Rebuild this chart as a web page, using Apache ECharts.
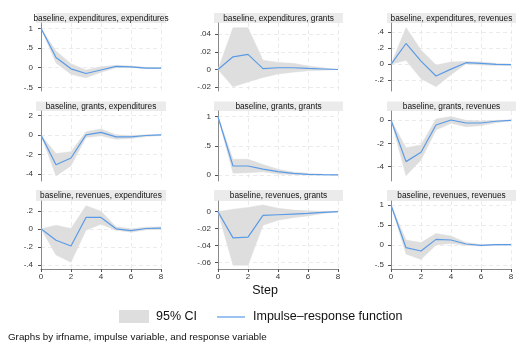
<!DOCTYPE html>
<html>
<head>
<meta charset="utf-8">
<script src="https://cdn.jsdelivr.net/npm/echarts@6/dist/echarts.min.js"></script>
<style>
  html, body { margin: 0; padding: 0; background: #fff; }
  #chart { width: 530px; height: 354px; }
</style>
</head>
<body>
<div id="chart"></div>
<script>
var steps = [0, 1, 2, 3, 4, 5, 6, 7, 8];

var panelNames = [
  'baseline, expenditures, expenditures', 'baseline, expenditures, grants', 'baseline, expenditures, revenues',
  'baseline, grants, expenditures', 'baseline, grants, grants', 'baseline, grants, revenues',
  'baseline, revenues, expenditures', 'baseline, revenues, grants', 'baseline, revenues, revenues'
];

// impulse responses and 95% CI bounds
var irfExpExp = [1, 0.26, -0.03, -0.15, -0.06, 0.03, 0.02, -0.01, -0.01];
var loExpExp  = [1, 0.12, -0.17, -0.26, -0.12, 0.0, 0.0, -0.02, -0.02];
var hiExpExp  = [1, 0.42, 0.10, -0.06, 0.02, 0.06, 0.04, 0.01, 0.0];

var irfExpGra = [0, 0.0143, 0.017, 0.001, 0.002, 0.002, 0.0012, 0.0006, 0];
var loExpGra  = [0, -0.0195, -0.014, -0.009, -0.005, -0.003, -0.0015, -0.0008, 0];
var hiExpGra  = [0, 0.047, 0.047, 0.0105, 0.008, 0.007, 0.004, 0.002, 0];

var irfExpRev = [0, 0.26, 0.04, -0.146, -0.06, 0.02, 0.012, 0, -0.005];
var loExpRev  = [0, 0.05, -0.18, -0.28, -0.13, 0.004, -0.008, -0.015, -0.015];
var hiExpRev  = [0, 0.46, 0.18, -0.01, 0.03, 0.035, 0.03, 0.012, 0.005];

var irfGraExp = [0, -3.05, -2.35, 0.03, 0.28, -0.18, -0.18, -0.04, 0.03];
var loGraExp  = [0, -4.2, -3.16, -0.25, -0.07, -0.42, -0.35, -0.15, -0.04];
var hiGraExp  = [0, -1.9, -1.7, 0.35, 0.63, 0.03, -0.04, 0.04, 0.07];

var irfGraGra = [1, 0.154, 0.154, 0.10, 0.057, 0.029, 0.011, 0.006, 0.003];
var loGraGra  = [1, 0.03, 0.04, 0.057, 0.017, 0.006, 0, -0.002, -0.003];
var hiGraGra  = [1, 0.27, 0.27, 0.18, 0.10, 0.05, 0.03, 0.012, 0.006];

var irfGraRev = [0, -3.57, -2.77, -0.43, 0, -0.26, -0.26, -0.11, -0.03];
var loGraRev  = [0, -4.77, -3.43, -0.86, -0.29, -0.57, -0.49, -0.23, -0.07];
var hiGraRev  = [0, -2.37, -2.14, 0.09, 0.29, -0.03, -0.09, -0.03, 0.01];

var irfRevExp = [0, -0.126, -0.19, 0.126, 0.126, 0, -0.02, 0.004, 0.007];
var loRevExp  = [0, -0.29, -0.37, -0.015, 0.05, -0.015, -0.037, -0.011, -0.007];
var hiRevExp  = [0, 0.04, 0.004, 0.255, 0.196, 0.022, 0, 0.019, 0.022];

var irfRevGra = [0, -0.0308, -0.030, -0.0044, -0.0036, -0.0028, -0.002, -0.0008, 0];
var loRevGra  = [0, -0.063, -0.063, -0.016, -0.010, -0.007, -0.005, -0.002, -0.0004];
var hiRevGra  = [0, 0.003, 0.005, 0.008, 0.004, 0.002, 0.001, 0.0004, 0.0004];

var irfRevRev = [1, -0.067, -0.15, 0.14, 0.125, 0.025, -0.008, 0.008, 0.008];
var loRevRev  = [1, -0.225, -0.36, 0, 0.04, -0.008, -0.025, -0.005, -0.005];
var hiRevRev  = [1, 0.125, 0.06, 0.29, 0.225, 0.06, 0.01, 0.02, 0.02];

// y tick labels per panel
var yTicks = [
  [-0.5, 0, 0.5, 1], [-0.02, 0, 0.02, 0.04], [-0.2, 0, 0.2, 0.4],
  [-4, -2, 0, 2], [0, 0.5, 1], [-4, -2, 0],
  [-0.4, -0.2, 0, 0.2], [-0.06, -0.04, -0.02, 0], [-0.5, 0, 0.5, 1]
];
var yRange = [
  [-0.594, 1.135], [-0.0242, 0.0524], [-0.334, 0.516],
  [-4.72, 2.48], [-0.103, 1.098], [-5.23, 0.77],
  [-0.444, 0.308], [-0.0674, 0.0126], [-0.6, 1.1]
];

var irfs = [irfExpExp, irfExpGra, irfExpRev, irfGraExp, irfGraGra, irfGraRev, irfRevExp, irfRevGra, irfRevRev];
var los  = [loExpExp, loExpGra, loExpRev, loGraExp, loGraGra, loGraRev, loRevExp, loRevGra, loRevRev];
var his  = [hiExpExp, hiExpGra, hiExpRev, hiGraExp, hiGraGra, hiGraRev, hiRevExp, hiRevGra, hiRevRev];

// layout
var colX = [41, 218, 391];
var colOff = [5, 4, 4];
var rowTop = [23, 111, 201];
var rowH = [68, 70, 68];
var stripH = [10, 9.5, 11];
var plotW = 120;

var font = 'Liberation Sans, Arial, sans-serif';
var gridLine = { color: '#ebebeb', type: [4, 3], width: 1 };
var bandColor = '#dedede';
var lineColor = '#5b9be6';

function fmt(v) {
  var s = String(+(+v).toFixed(4));
  return s.replace(/^(-?)0\./, '$1.');
}

// band polygon: lower edge left to right, upper edge back
function bandRenderer(lo, hi) {
  return function (params, api) {
    if (params.dataIndex !== 0) return null;
    var pts = [];
    for (var k = 0; k < steps.length; k++) pts.push(api.coord([steps[k], lo[k]]));
    for (var k2 = steps.length - 1; k2 >= 0; k2--) pts.push(api.coord([steps[k2], hi[k2]]));
    return {
      type: 'polygon', shape: { points: pts },
      style: { fill: bandColor, stroke: bandColor, lineWidth: 0.5 }
    };
  };
}

var grids = [], xAxes = [], yAxes = [], series = [], graphics = [];
for (var i = 0; i < 9; i++) {
  var r = Math.floor(i / 3), c = i % 3;
  grids.push({ left: colX[c], top: rowTop[r], width: plotW, height: rowH[r] });
  xAxes.push({
    gridIndex: i, type: 'value', min: 0, max: 8, interval: 2,
    axisLine: { show: r === 2, onZero: false, lineStyle: { color: '#8a8a8a' } },
    axisTick: { show: r === 2, length: 3, lineStyle: { color: '#555' } },
    axisLabel: { show: r === 2, fontSize: 8, color: '#333', margin: 4, fontFamily: font },
    splitLine: { show: true, lineStyle: gridLine }
  });
  yAxes.push({
    gridIndex: i, type: 'value', min: yRange[i][0], max: yRange[i][1], offset: colOff[c],
    axisLine: { show: true, lineStyle: { color: '#8a8a8a' } },
    axisTick: { show: true, length: 3, customValues: yTicks[i], lineStyle: { color: '#555' } },
    axisLabel: { fontSize: 8, color: '#333', margin: 3, fontFamily: font, customValues: yTicks[i], formatter: fmt },
    splitLine: { show: true, lineStyle: gridLine }
  });

  var lo = los[i], hi = his[i], irf = irfs[i];
  series.push({
    type: 'custom', name: '95% CI', xAxisIndex: i, yAxisIndex: i,
    data: steps.map(function (s, k) { return [s, lo[k], hi[k]]; }),
    encode: { x: 0, y: [1, 2] },
    renderItem: bandRenderer(lo, hi), silent: true, z: 1
  });
  series.push({
    type: 'line', name: 'Impulse–response function', xAxisIndex: i, yAxisIndex: i,
    data: steps.map(function (s, k) { return [s, irf[k]]; }),
    symbol: 'none', color: lineColor, lineStyle: { width: 1.2 }, z: 3
  });

  // title strip over each panel
  var sx = colX[c] - colOff[c], sw = plotW + colOff[c] + 5;
  var sy = rowTop[r] - stripH[r];
  graphics.push({
    type: 'rect', shape: { x: sx, y: sy, width: sw, height: stripH[r] },
    style: { fill: '#ebebeb' }, silent: true
  });
  graphics.push({
    type: 'text', x: sx + sw / 2, y: sy + stripH[r] / 2 + 0.5,
    style: { text: panelNames[i], align: 'center', verticalAlign: 'middle', fontSize: 8.3, fill: '#111', fontFamily: font },
    silent: true
  });
}

// legend keys
graphics.push({ type: 'rect', shape: { x: 119, y: 310, width: 30, height: 13 }, style: { fill: bandColor }, silent: true });
graphics.push({ type: 'text', x: 156, y: 317, style: { text: '95% CI', verticalAlign: 'middle', fontSize: 12.5, fill: '#111', fontFamily: font }, silent: true });
graphics.push({ type: 'line', shape: { x1: 217, y1: 317, x2: 245, y2: 317 }, style: { stroke: lineColor, lineWidth: 1.2 }, silent: true });
graphics.push({ type: 'text', x: 253, y: 317, style: { text: 'Impulse–response function', verticalAlign: 'middle', fontSize: 12.5, fill: '#111', fontFamily: font }, silent: true });

var chart = echarts.init(document.getElementById('chart'), null, { renderer: 'canvas' });
chart.setOption({
  animation: false,
  backgroundColor: '#fff',
  textStyle: { fontFamily: font },
  title: [
    { text: 'Step', left: 'center', top: 284, padding: 0,
      textStyle: { fontSize: 12.5, fontWeight: 'normal', color: '#111', fontFamily: font } },
    { text: 'Graphs by irfname, impulse variable, and response variable', left: 8, top: 332, padding: 0,
      textStyle: { fontSize: 9.8, fontWeight: 'normal', color: '#111', fontFamily: font } }
  ],
  grid: grids,
  xAxis: xAxes,
  yAxis: yAxes,
  series: series,
  graphic: graphics
});
</script>
</body>
</html>
